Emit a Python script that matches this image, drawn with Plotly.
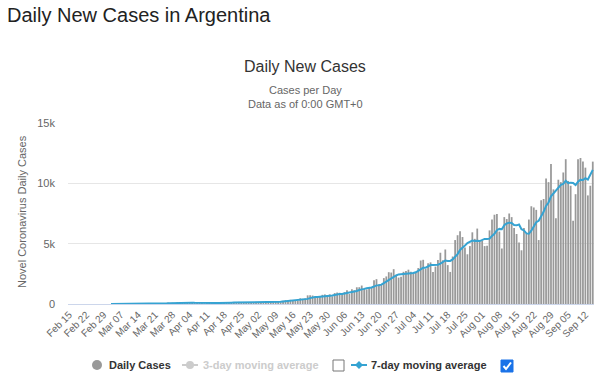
import pandas as pd
import plotly.graph_objects as go

# ---------------- data ----------------
dates = pd.date_range("2020-02-15", "2020-09-15", freq="D")
categories = [d.strftime("%b %d") for d in dates]

cases_feb = [None] * 15  # Feb 15 - Feb 29
cases_mar = [None, None, 1, 0, 1, 6, 1, 3, 5, 2, 2, 12, 3, 11, 11, 9, 14, 18, 31, 30,
             33, 67, 41, 36, 86, 115, 87, 101, 55, 146, 146]
cases_apr = [88, 132, 98, 89, 92, 75, 87, 115, 81, 58, 86, 119, 78, 112, 99, 85, 167, 91,
             102, 83, 132, 144, 113, 172, 111, 89, 111, 124, 158, 123]
cases_may = [143, 123, 107, 102, 127, 164, 239, 248, 165, 244, 146, 262, 317, 316, 345,
             307, 300, 291, 474, 432, 454, 718, 723, 704, 552, 535, 611, 762, 795, 732, 795]
cases_jun = [641, 904, 949, 929, 840, 983, 1141, 826, 1226, 1141, 1386, 1391, 1531, 1282,
             1208, 1374, 1393, 1958, 2060, 1634, 1581, 2146, 2285, 2635, 2606, 2886, 2401,
             2189, 2262, 2667]
cases_jul = [2744, 2845, 2667, 2590, 2632, 2979, 3604, 3663, 2910, 3367, 3449, 2657, 3099,
             3645, 4250, 3624, 4518, 3223, 2657, 3937, 5300, 5700, 6030, 5550, 4690, 4120,
             4800, 5940, 5400, 6250, 5300]
cases_aug = [5250, 4800, 4820, 6100, 7000, 7400, 7450, 6000, 4600, 7200, 7040, 7500, 7200,
             6300, 5800, 5100, 4450, 6300, 5800, 7000, 8100, 8000, 7800, 5300, 8600, 8700,
             10400, 10100, 11600, 9500, 7100]
cases_sep = [10300, 10100, 10900, 12000, 10200, 9800, 6900, 9100, 12000, 12100, 11800,
             11300, 9000, 9800, 11800]

tick_labels = ["Feb 15", "Feb 22", "Feb 29", "Mar 07", "Mar 14", "Mar 21", "Mar 28",
               "Apr 04", "Apr 11", "Apr 18", "Apr 25", "May 02", "May 09", "May 16",
               "May 23", "May 30", "Jun 06", "Jun 13", "Jun 20", "Jun 27", "Jul 04",
               "Jul 11", "Jul 18", "Jul 25", "Aug 01", "Aug 08", "Aug 15", "Aug 22",
               "Aug 29", "Sep 05", "Sep 12"]
y_tick_vals = [0, 5000, 10000, 15000]
y_tick_text = ["0", "5k", "10k", "15k"]

daily = (cases_feb + cases_mar + cases_apr + cases_may + cases_jun + cases_jul
         + cases_aug + cases_sep)
avg7 = pd.Series(daily, dtype="float").rolling(7, min_periods=1).mean()

# ---------------- figure ----------------
W, H = 600, 380
L, R, T, B = 68, 6, 123, 76
PW, PH = W - L - R, H - T - B


def px(x):
    return (x - L) / PW


def py(y):
    return (H - B - y) / PH


FONT = "Liberation Sans, Arial, sans-serif"
BLUE = "#35a3d2"

fig = go.Figure()
fig.add_trace(go.Bar(x=categories, y=[v if v is not None else 0 for v in daily],
                     marker=dict(color="#999999", line=dict(width=0)),
                     showlegend=False, hoverinfo="skip"))
fig.add_trace(go.Scatter(x=categories, y=avg7, mode="lines",
                         line=dict(color=BLUE, width=2), showlegend=False,
                         hoverinfo="skip"))

annotations = [
    dict(text="Daily New Cases in Argentina", x=px(5), y=py(15), xanchor="left",
         yanchor="middle", font=dict(size=20, color="#222222", family=FONT)),
    dict(text="Daily New Cases", x=px(305), y=py(67), xanchor="center", yanchor="middle",
         font=dict(size=16, color="#333333", family=FONT)),
    dict(text="Cases per Day", x=px(305), y=py(90), xanchor="center", yanchor="middle",
         font=dict(size=11, color="#666666", family=FONT)),
    dict(text="Data as of 0:00 GMT+0", x=px(305), y=py(104), xanchor="center",
         yanchor="middle", font=dict(size=11, color="#666666", family=FONT)),
    dict(text="Novel Coronavirus Daily Cases", x=px(22), y=py(212), textangle=-90,
         xanchor="center", yanchor="middle",
         font=dict(size=11, color="#666666", family=FONT)),
    dict(text="<b>Daily Cases</b>", x=px(107), y=py(365), xanchor="left",
         yanchor="middle", font=dict(size=11, color="#333333", family=FONT)),
    dict(text="<b>3-day moving average</b>", x=px(201), y=py(365), xanchor="left",
         yanchor="middle", font=dict(size=11, color="#cccccc", family=FONT)),
    dict(text="<b>7-day moving average</b>", x=px(369), y=py(365), xanchor="left",
         yanchor="middle", font=dict(size=11, color="#333333", family=FONT)),
]
for a in annotations:
    a.update(xref="paper", yref="paper", showarrow=False)

shapes = [
    # daily cases legend dot
    dict(type="circle", x0=px(92), x1=px(102), y0=py(370), y1=py(360),
         fillcolor="#999999", line=dict(width=0)),
    # 3-day symbol
    dict(type="line", x0=px(182), x1=px(198), y0=py(365), y1=py(365),
         line=dict(color="#cccccc", width=2)),
    dict(type="circle", x0=px(186), x1=px(194), y0=py(369), y1=py(361),
         fillcolor="#cccccc", line=dict(width=0)),
    # unchecked box
    dict(type="rect", x0=px(333), x1=px(344), y0=py(371), y1=py(360),
         fillcolor="white", line=dict(color="#767676", width=1)),
    # 7-day symbol
    dict(type="line", x0=px(351), x1=px(367), y0=py(365), y1=py(365),
         line=dict(color=BLUE, width=2)),
    dict(type="path",
         path=f"M {px(359)},{py(361)} L {px(363)},{py(365)} L {px(359)},{py(369)} "
              f"L {px(355)},{py(365)} Z",
         fillcolor=BLUE, line=dict(width=0)),
    # checked box
    dict(type="rect", x0=px(501), x1=px(513), y0=py(372), y1=py(360),
         fillcolor="#1a73e8", line=dict(color="#1a73e8", width=1)),
    dict(type="path",
         path=f"M {px(503.5)},{py(366)} L {px(506)},{py(369)} L {px(511)},{py(362.5)}",
         line=dict(color="white", width=2)),
]
for s in shapes:
    s.update(xref="paper", yref="paper")

fig.update_layout(
    width=W, height=H,
    margin=dict(l=L, r=R, t=T, b=B, pad=0),
    paper_bgcolor="white", plot_bgcolor="white",
    bargap=0.28,
    font=dict(family=FONT, color="#666666"),
    annotations=annotations, shapes=shapes,
    hovermode=False,
    xaxis=dict(type="category", tickmode="array", tickvals=tick_labels,
               ticktext=tick_labels, tickangle=-45,
               tickfont=dict(size=10, color="#666666", family=FONT),
               showgrid=False, showline=True, linecolor="#ccd6eb", linewidth=1,
               ticks="", zeroline=False, fixedrange=True),
    yaxis=dict(range=[0, 15000], tickmode="array", tickvals=y_tick_vals,
               ticktext=y_tick_text, tickfont=dict(size=11, color="#666666", family=FONT),
               showgrid=True, gridcolor="#e6e6e6", gridwidth=1, zeroline=False,
               showline=False, ticks="", ticklabelstandoff=12, fixedrange=True),
)

fig.write_html("out.html", include_plotlyjs=True, full_html=True,
               config={"displayModeBar": False, "staticPlot": True},
               post_script="document.body.style.margin='0';")
